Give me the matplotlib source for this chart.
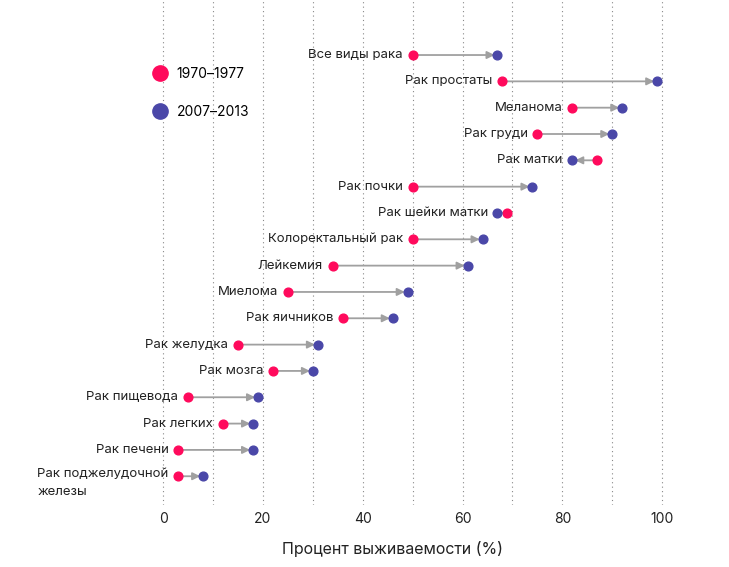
import matplotlib.pyplot as plt
from matplotlib.lines import Line2D

plt.rcParams['font.family'] = ['Inter', 'DejaVu Sans']

cancers = ["Все виды рака", "Рак простаты", "Меланома", "Рак груди", "Рак матки",
           "Рак почки", "Рак шейки матки", "Колоректальный рак", "Лейкемия", "Миелома",
           "Рак яичников", "Рак желудка", "Рак мозга", "Рак пищевода", "Рак легких",
           "Рак печени", "Рак поджелудочной\nжелезы"]
y1970 = [50, 68, 82, 75, 87, 50, 69, 50, 34, 25, 36, 15, 22, 5, 12, 3, 3]
y2007 = [67, 99, 92, 90, 82, 74, 67, 64, 61, 49, 46, 31, 30, 19, 18, 18, 8]
labels = ["1970–1977", "2007–2013"]
red = "#ff0a5c"
blue = "#4a47a8"

fig = plt.figure(figsize=(7.29, 5.67), dpi=100)
ax = fig.add_axes([0, 0.109, 1, 0.891])

for i, (name, a, b) in enumerate(zip(cancers, y1970, y2007)):
    ax.annotate("", xy=(b, i), xytext=(a, i),
                arrowprops=dict(arrowstyle="-|>,head_length=0.45,head_width=0.22",
                                color="#a0a0a0", lw=1.3, shrinkA=0, shrinkB=2),
                zorder=2)
    ax.plot(a, i, "o", color=red, ms=6.3, zorder=3)
    ax.plot(b, i, "o", color=blue, ms=6.3, zorder=3)
    if "\n" in name:
        ax.annotate(name, xy=(min(a, b), i), xytext=(-7, 6), textcoords="offset points",
                    ha="right", va="top", multialignment="left", fontsize=9.5,
                    color="#222222", linespacing=1.7)
    else:
        ax.annotate(name, xy=(min(a, b), i), xytext=(-7, 0), textcoords="offset points",
                    ha="right", va="center", fontsize=9.5, color="#222222")

ax.set_xlim(-32.7, 113.4)
ax.set_ylim(17.1, -2.09)
ax.set_xticks(range(0, 101, 20))
ax.set_xticks(range(10, 100, 20), minor=True)
ax.set_yticks([])
ax.grid(True, axis="x", which="both", linestyle=(0, (1, 3)), color="#888888", lw=0.8)
ax.tick_params(axis="x", which="both", length=0, labelsize=10, pad=5, labelcolor="#222222")
for s in ax.spines.values():
    s.set_visible(False)
ax.set_xlabel("Процент выживаемости (%)", fontsize=11.5, color="#222222")
ax.xaxis.set_label_coords(0.538, -0.07)

handles = [Line2D([], [], marker="o", ls="", color=red, ms=11),
           Line2D([], [], marker="o", ls="", color=blue, ms=11)]
ax.legend(handles, labels, loc="upper left", bbox_to_anchor=(0.205, 0.868),
          frameon=False, fontsize=10, labelspacing=1.75, handletextpad=0.45,
          borderpad=0, borderaxespad=0, handlelength=1.5)

fig.savefig("out.png", dpi=100)
